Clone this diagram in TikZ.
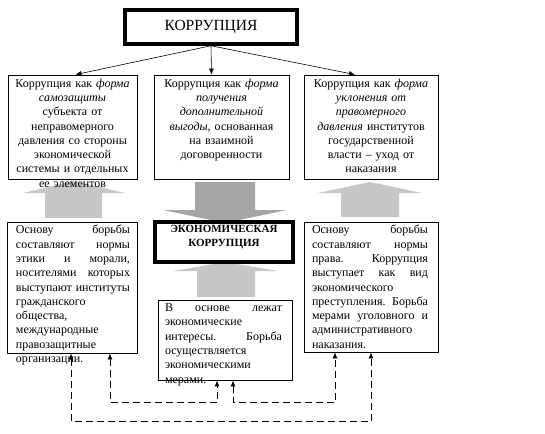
\documentclass[tikz,border=0pt]{standalone}
\usepackage{fontspec}
\setmainfont{Liberation Serif}
\usetikzlibrary{arrows.meta}
\setlength{\parindent}{0pt}
\newcommand{\jst}[2]{\makebox[#1][l]{#2}}

\begin{document}
\begin{tikzpicture}[x=1pt,y=-1pt,
    box/.style={draw, line width=0.8pt, inner sep=0pt},
    heavybox/.style={draw, line width=3.5pt, inner sep=0pt},
    txt/.style={anchor=north, inner sep=0pt, font=\fontsize{12}{14.3}\selectfont},
    link/.style={dash pattern=on 7pt off 4pt, line width=0.8pt, {Latex[length=6pt,width=5pt]}-{Latex[length=6pt,width=5pt]}},
    branch/.style={line width=0.6pt, -{Latex[length=6pt,width=5pt]}},
    fatarrow/.style={fill=black!22}]

    \useasboundingbox (0,0) rectangle (545,433);

    % boxes
    \node[heavybox, minimum width=172pt, minimum height=34pt, font=\fontsize{15.5}{17}\selectfont] (kor) at (211,27) {КОРРУПЦИЯ};
    \node[box, minimum width=129pt, minimum height=104pt] (la) at (72.5,127) {};
    \node[box, minimum width=135pt, minimum height=104pt] (ca) at (221.5,127) {};
    \node[box, minimum width=134pt, minimum height=104pt] (ra) at (371,127) {};
    \node[box, minimum width=130pt, minimum height=131pt] (lb) at (72,287.5) {};
    \node[box, minimum width=134pt, minimum height=130pt] (rb) at (371,287) {};
    \node[box, minimum width=134pt, minimum height=80pt] (cb) at (225,340) {};

    % big grey arrows
    \fill[fatarrow] (45,218) -- (45,193) -- (23,193) -- (74,181) -- (125,193) -- (102,193) -- (102,218) -- cycle; % lb -> la
    \fill[fatarrow] (341,217) -- (341,193) -- (318,193) -- (370,182) -- (422,193) -- (399,193) -- (399,217) -- cycle; % rb -> ra
    \fill[fatarrow, fill=black!35] (195,182) -- (255,182) -- (255,210) -- (287,210) -- (225,223) -- (163,210) -- (195,210) -- cycle; % ca -> ek
    \fill[fatarrow] (197,297) -- (197,271) -- (173,271) -- (225,262) -- (278,271) -- (255,271) -- (255,297) -- cycle; % cb -> ek

    \node[heavybox, line width=4pt, minimum width=138pt, minimum height=40pt] (ek) at (224,242) {};

    % texts
    \node[txt, text width=126pt, align=center] (lat) at ([yshift=-4pt]la.north) {Коррупция как \emph{форма}\\ \emph{самозащиты}\\ субъекта от\\ неправомерного\\ давления со стороны\\ экономической\\ системы и отдельных\\ ее элементов};
    \node[txt, text width=130pt, align=center] (cat) at ([yshift=-4pt]ca.north) {Коррупция как \emph{форма}\\ \emph{получения}\\ \emph{дополнительной}\\ \emph{выгоды}, основанная\\ на взаимной\\ договоренности};
    \node[txt, text width=130pt, align=center] (rat) at ([yshift=-4pt]ra.north) {Коррупция как \emph{форма}\\ \emph{уклонения от}\\ \emph{правомерного}\\ \emph{давления} институтов\\ государственной\\ власти -- уход от\\ наказания};
    \node[txt, text width=114pt, align=left] (lbt) at ([xshift=1pt,yshift=-3.5pt]lb.north) {\jst{114pt}{Основу\hfill борьбы}\\ \jst{114pt}{составляют\hfill нормы}\\ \jst{114pt}{этики\hfill и\hfill морали,}\\ \jst{114pt}{носителями\hfill которых}\\ \jst{114pt}{выступают\hfill институты}\\ гражданского\\ общества,\\ международные\\ правозащитные\\ организации.};
    \node[txt, text width=116pt, align=left] (rbt) at ([xshift=-1pt,yshift=-3.5pt]rb.north) {\jst{116pt}{Основу\hfill борьбы}\\ \jst{116pt}{составляют\hfill нормы}\\ \jst{116pt}{права.\hfill Коррупция}\\ \jst{116pt}{выступает\hfill как\hfill вид}\\ экономического\\ \jst{116pt}{преступления.\hfill Борьба}\\ \jst{116pt}{мерами\hfill уголовного\hfill и}\\ административного\\ наказания.};
    \node[txt, text width=117pt, align=left] (cbt) at ([xshift=-1.5pt,yshift=-4pt]cb.north) {\jst{117pt}{В\hfill основе\hfill лежат}\\ экономические\\ \jst{117pt}{интересы.\hfill Борьба}\\ осуществляется\\ экономическими\\ мерами.};
    \node[txt, anchor=center, align=center, font=\fontsize{11}{14}\selectfont\bfseries] (ekt) at ([yshift=5pt]ek.center) {ЭКОНОМИЧЕСКАЯ\\ КОРРУПЦИЯ};

    % edges
    \draw[branch] (kor.south) -- ([xshift=3pt]la.north); % kor -> la
    \draw[branch] (kor.south) -- ([xshift=-10pt]ca.north); % kor -> ca
    \draw[branch] (kor.south) -- ([xshift=-16pt]ra.north); % kor -> ra
    \draw[link] ([xshift=38pt]lb.south) -- ++(0,49) -| ([xshift=-8pt]cb.south); % lb <-> cb
    \draw[link] ([xshift=8pt]cb.south) -- ++(0,22) -| ([xshift=-36pt]rb.south); % cb <-> rb
    \draw[link] ([xshift=-1pt]lb.south) -- ++(0,68) -| (rb.south); % lb <-> rb

\end{tikzpicture}
\end{document}
